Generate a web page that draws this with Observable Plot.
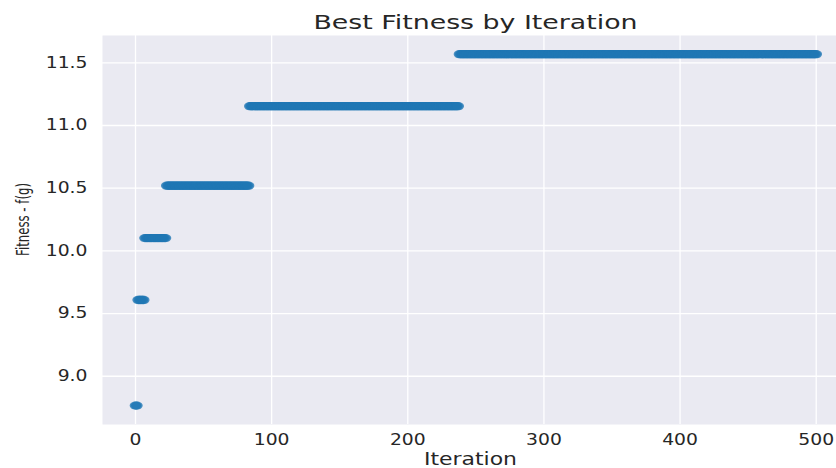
<!DOCTYPE html>
<html><head><meta charset="utf-8">
<script src="https://cdn.jsdelivr.net/npm/d3@7"></script>
<script src="https://cdn.jsdelivr.net/npm/@observablehq/plot@0.6"></script>
<style>html,body{margin:0;padding:0;background:#fff;} svg{display:block;}</style>
</head><body><div id="chart"></div>
<script>
const title = "Best Fitness by Iteration";
const xLabel = "Iteration";
const yLabel = "Fitness - f(g)";
// best-so-far fitness: each step holds a constant value from stepStart to stepEnd (inclusive)
const stepStart = [0, 2, 7, 23, 84, 238];
const stepEnd = [1, 6, 22, 83, 237, 500];
const stepFitness = [8.766, 9.608, 10.102, 10.52, 11.154, 11.569];
const xTicks = [0, 100, 200, 300, 400, 500];
const yTicks = [9.0, 9.5, 10.0, 10.5, 11.0, 11.5];

const data = [];
stepStart.forEach((s, i) => {
  for (let it = s; it <= stepEnd[i]; it++) data.push({iteration: it, fitness: stepFitness[i]});
});

// horizontally stretched ellipse marker
const ellipse = {
  draw(ctx, size) {
    const r = Math.sqrt(size / Math.PI), rx = r * 1.4, ry = r, k = 0.5523;
    ctx.moveTo(rx, 0);
    ctx.bezierCurveTo(rx, ry * k, rx * k, ry, 0, ry);
    ctx.bezierCurveTo(-rx * k, ry, -rx, ry * k, -rx, 0);
    ctx.bezierCurveTo(-rx, -ry * k, -rx * k, -ry, 0, -ry);
    ctx.bezierCurveTo(rx * k, -ry, rx, -ry * k, rx, 0);
    ctx.closePath();
  }
};

const ink = "#262626";
const chart = Plot.plot({
  width: 836, height: 468,
  marginLeft: 102, marginRight: 0, marginTop: 35, marginBottom: 44,
  style: {fontFamily: "DejaVu Sans", color: ink, background: "#fff", overflow: "visible"},
  x: {domain: [-24.24, 514.9]},
  y: {domain: [8.615, 11.718]},
  marks: [
    Plot.frame({fill: "#eaeaf2", stroke: "none"}),
    Plot.gridX(xTicks, {stroke: "#fff", strokeOpacity: 1, strokeWidth: 1.3}),
    Plot.gridY(yTicks, {stroke: "#fff", strokeOpacity: 1, strokeWidth: 1.3}),
    Plot.dot(data, {x: "iteration", y: "fitness", r: 4.15, symbol: ellipse, fill: "#1f77b4", fillOpacity: 0.8, stroke: "none"}),
    Plot.axisX(xTicks, {tickSize: 0, tickPadding: 10, fontSize: 15, label: null, fill: ink}),
    Plot.axisY(yTicks, {tickSize: 0, tickPadding: 15, fontSize: 15, label: null, tickFormat: d3.format(".1f"), fill: ink}),
    Plot.text([title], {text: d => d, frameAnchor: "top", dx: 6, dy: -6.7, lineAnchor: "bottom", fontSize: 20, fill: ink}),
    Plot.text([xLabel], {text: d => d, frameAnchor: "bottom", dx: 1, dy: 40.7, lineAnchor: "bottom", fontSize: 18, fill: ink}),
    Plot.text([yLabel], {text: d => d, frameAnchor: "left", textAnchor: "middle", rotate: -90, dx: -74, dy: -10.5, lineAnchor: "bottom", fontSize: 18, fill: ink})
  ]
});
document.getElementById("chart").appendChild(chart);

// emulate the horizontal stretch of the reference glyphs
const exact = {[title]: 324, [xLabel]: 93};
chart.querySelectorAll("text").forEach(t => {
  const s = t.textContent;
  const w = t.getComputedTextLength();
  if (s === yLabel) {
    // compress along the (vertical) baseline with a local scale
    const f = 73 / w;
    const tr = t.getAttribute("transform");
    if (tr) t.setAttribute("transform", tr + ` scale(${f},1)`);
    else t.setAttribute("textLength", 73);
    return;
  }
  const L = exact[s] != null ? exact[s] : w * 1.25;
  t.setAttribute("textLength", L);
  t.setAttribute("lengthAdjust", "spacingAndGlyphs");
});
</script>
</body></html>
